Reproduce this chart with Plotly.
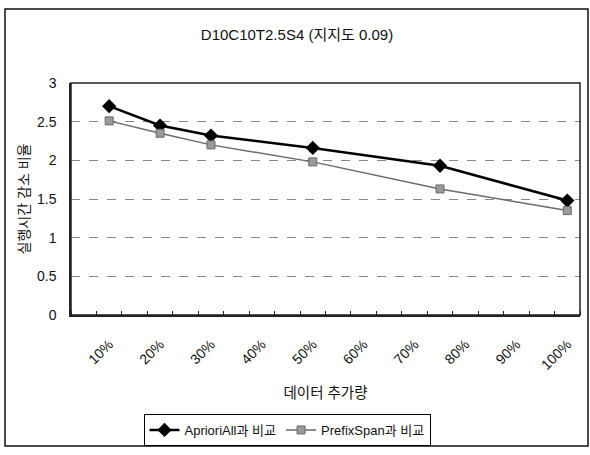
import plotly.graph_objects as go

# Data (x positions in % of data added)
x_pct = [10, 20, 30, 50, 75, 100]
apriori = [2.70, 2.45, 2.32, 2.16, 1.93, 1.48]
prefix = [2.51, 2.35, 2.20, 1.98, 1.63, 1.35]
tick_vals = [10, 20, 30, 40, 50, 60, 70, 80, 90, 100]
tick_text = ["10%", "20%", "30%", "40%", "50%", "60%", "70%", "80%", "90%", "100%"]
y_ticks = [0, 0.5, 1, 1.5, 2, 2.5, 3]
y_text = ["0", "0.5", "1", "1.5", "2", "2.5", "3"]

FONT = "Liberation Sans, Arial, Noto Sans CJK KR, sans-serif"

fig = go.Figure()
fig.add_trace(go.Scatter(
    x=x_pct, y=apriori, name="AprioriAll과 비교", mode="lines+markers",
    line=dict(color="#000000", width=2.5),
    marker=dict(symbol="diamond", size=11, color="#000000"),
))
fig.add_trace(go.Scatter(
    x=x_pct, y=prefix, name="PrefixSpan과 비교", mode="lines+markers",
    line=dict(color="#6a6a6a", width=1.5),
    marker=dict(symbol="square", size=8, color="#9a9a9a",
                line=dict(color="#6a6a6a", width=1)),
))

W, H = 590, 455
L, R, T, B = 71, 580, 83, 315
pw, ph = R - L, B - T

def px(xp):
    return (xp - L) / pw

def py(yp):
    return (B - yp) / ph

fig.update_layout(
    width=W, height=H,
    margin=dict(l=L, r=W - R, t=T, b=H - B, autoexpand=False),
    paper_bgcolor="white", plot_bgcolor="white",
    font=dict(family=FONT, size=12, color="#111111"),
    title=dict(text="D10C10T2.5S4 (지지도 0.09)", x=297 / W, xanchor="center",
               y=1 - 35 / H, yanchor="middle", font=dict(size=15)),
    showlegend=True,
    legend=dict(orientation="h", x=px(287), xanchor="center", y=py(414), yanchor="top",
                bordercolor="#000000", borderwidth=1, bgcolor="white",
                font=dict(size=13), itemwidth=30, tracegroupgap=0),
    xaxis=dict(
        range=[2.5, 102.5], tickmode="array", tickvals=tick_vals, ticktext=tick_text,
        tickangle=-45, ticks="", ticklabelstandoff=14, showgrid=False, zeroline=False,
        showline=True, linecolor="#222222", linewidth=1.5, automargin=False,
        tickfont=dict(size=14),
        minor=dict(tickmode="linear", tick0=2.5, dtick=5, ticks="inside", ticklen=4,
                   tickcolor="#222222", showgrid=False),
        title=dict(text="데이터 추가량", font=dict(size=14.5), standoff=16),
    ),
    yaxis=dict(
        range=[0, 3], tickmode="array", tickvals=y_ticks, ticktext=y_text,
        ticks="", ticklabelstandoff=10, showgrid=True, gridcolor="#888888",
        griddash="dash", gridwidth=1, zeroline=False, automargin=False,
        showline=True, linecolor="#222222", linewidth=1.5,
        tickfont=dict(size=14),
        title=dict(text="실행시간 감소 비율", font=dict(size=14), standoff=4),
    ),
    shapes=[
        dict(type="rect", xref="paper", yref="paper", x0=0, x1=1, y0=0, y1=1,
             line=dict(color="#222222", width=1.5), layer="above"),
        dict(type="rect", xref="paper", yref="paper", x0=px(5), x1=px(588), y0=py(446), y1=py(9),
             line=dict(color="#111111", width=1.5)),
    ],
)

fig.write_html("out.html")
